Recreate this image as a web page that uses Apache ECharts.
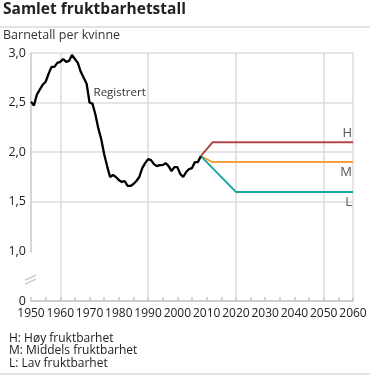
<!DOCTYPE html>
<html><head><meta charset="utf-8">
<script src="https://cdn.jsdelivr.net/npm/echarts@6/dist/echarts.min.js"></script>
<style>html,body{margin:0;padding:0;background:#fff}#c{width:370px;height:376px}</style>
</head><body><div id="c"></div>
<script>
var years = [];
for (var y = 1950; y <= 2060; y++) years.push(String(y));
var registeredYears = [1950,1951,1952,1953,1954,1955,1956,1957,1958,1959,1960,1961,1962,1963,1964,1965,1966,1967,1968,1969,1970,1971,1972,1973,1974,1975,1976,1977,1978,1979,1980,1981,1982,1983,1984,1985,1986,1987,1988,1989,1990,1991,1992,1993,1994,1995,1996,1997,1998,1999,2000,2001,2002,2003,2004,2005,2006,2007,2008];
var registered = [2.51,2.47,2.58,2.63,2.68,2.71,2.79,2.86,2.86,2.90,2.91,2.94,2.91,2.92,2.98,2.94,2.90,2.81,2.75,2.69,2.50,2.49,2.38,2.24,2.13,1.98,1.86,1.75,1.77,1.75,1.72,1.70,1.71,1.66,1.66,1.68,1.71,1.75,1.84,1.89,1.93,1.92,1.88,1.86,1.87,1.87,1.89,1.86,1.81,1.85,1.85,1.78,1.75,1.80,1.83,1.84,1.90,1.90,1.96];
var highYears = [2008,2012,2060];   var high = [1.96,2.10,2.10];
var midYears  = [2008,2012,2060];   var mid  = [1.96,1.90,1.90];
var lowYears  = [2008,2020,2060];   var low  = [1.96,1.60,1.60];
var seriesNames = ['H','M','L'];
var footnotes = ['H: Høy fruktbarhet','M: Middels fruktbarhet','L: Lav fruktbarhet'];
var FONT = '"Open Sans", sans-serif';

function pairs(xs, vs){ return xs.map(function(x,i){ return [String(x), vs[i]]; }); }

var regData = pairs(registeredYears, registered).map(function(p){
  if (p[0] === '1970') return {value:p, label:{show:true, formatter:'Registrert', position:'right', offset:[-1,-10], color:'#333', fontSize:11.5, fontFamily:FONT}};
  return p;
});

function endLabel(xs, vs, pos, dy){
  return pairs(xs, vs).map(function(p,i){
    if (i === xs.length-1) return {value:p, label:{show:true, formatter:'{a}', position:pos, align:'right', offset:[-1, dy], color:'#555', fontSize:13, fontFamily:FONT}};
    return p;
  });
}

var lineBase = {type:'line', symbol:'circle', symbolSize:0, showSymbol:true, showAllSymbol:true, label:{show:false}};

var chart = echarts.init(document.getElementById('c'), null, {renderer:'canvas'});
chart.setOption({
  animation:false,
  textStyle:{fontFamily:FONT},
  title:[
    {text:'Samlet fruktbarhetstall', left:3, top:2, padding:0, textStyle:{fontSize:15.5, fontWeight:'bold', color:'#222', fontFamily:FONT}},
    {text:'Barnetall per kvinne', left:3, top:27, padding:0, textStyle:{fontSize:12.5, fontWeight:'normal', color:'#333', fontFamily:FONT, lineHeight:16}},
    {text:footnotes.join('\n'), left:9, top:332, padding:0, textStyle:{fontSize:12, fontWeight:'normal', color:'#222', lineHeight:12.6, fontFamily:FONT}}
  ],
  grid:{left:31, right:17, top:53, bottom:75, containLabel:false},
  xAxis:{
    type:'category', data:years, boundaryGap:false,
    axisLine:{lineStyle:{color:'#c8c8c8', width:1.5}},
    axisTick:{show:true, inside:true, length:4, interval:function(i){return i%5===0;}, lineStyle:{color:'#c8c8c8', width:1.5}},
    axisLabel:{interval:function(i){return i%10===0;}, color:'#222', fontSize:12, margin:7, fontFamily:FONT},
    splitLine:{show:true, interval:function(i){return (i-10)%30===0 || i===110;}, lineStyle:{color:'#dcdcdc', width:1.5}}
  },
  yAxis:{
    type:'value', min:0, max:3, interval:0.5,
    breaks:[{start:0, end:1, gap:0.5}],
    breakArea:{show:false},
    axisLine:{show:true, lineStyle:{color:'#c8c8c8', width:1.5}},
    axisTick:{show:false},
    axisLabel:{color:'#222', fontSize:12.5, margin:5, fontFamily:FONT, formatter:function(v){ return v===0 ? '0' : v.toFixed(1).replace('.',','); }},
    splitLine:{show:true, lineStyle:{color:'#dcdcdc', width:1.5}}
  },
  series:[
    Object.assign({}, lineBase, {name:'Registrert', data:regData, lineStyle:{color:'#000', width:2.3}, z:5}),
    Object.assign({}, lineBase, {name:seriesNames[0], data:endLabel(highYears, high, 'top', 3), lineStyle:{color:'#b0484b', width:2}, z:4}),
    Object.assign({}, lineBase, {name:seriesNames[1], data:endLabel(midYears, mid, 'bottom', -1.5), lineStyle:{color:'#f4a03a', width:2}, z:4}),
    Object.assign({}, lineBase, {name:seriesNames[2], data:endLabel(lowYears, low, 'bottom', -1), lineStyle:{color:'#1aa6a0', width:2}, z:4})
  ]
});

// decorations: separators and the axis-break mark, positioned from the axes
var xa = chart.convertToPixel({xAxisIndex:0}, years[0]);
var y0 = chart.convertToPixel({yAxisIndex:0}, 0);
var y1 = chart.convertToPixel({yAxisIndex:0}, 1);
var midY = (y0 + y1) / 2 + 3;
chart.setOption({graphic:[
  {type:'rect', shape:{x:0,y:26,width:370,height:2}, style:{fill:'#e3e3e3'}, silent:true},
  {type:'rect', shape:{x:0,y:373,width:370,height:2}, style:{fill:'#e3e3e3'}, silent:true},
  {type:'line', shape:{x1:xa-6, y1:midY+1, x2:xa+5, y2:midY-4}, style:{stroke:'#c8c8c8', lineWidth:1.3}, silent:true},
  {type:'line', shape:{x1:xa-6, y1:midY+5, x2:xa+5, y2:midY}, style:{stroke:'#c8c8c8', lineWidth:1.3}, silent:true}
]});
</script></body></html>
